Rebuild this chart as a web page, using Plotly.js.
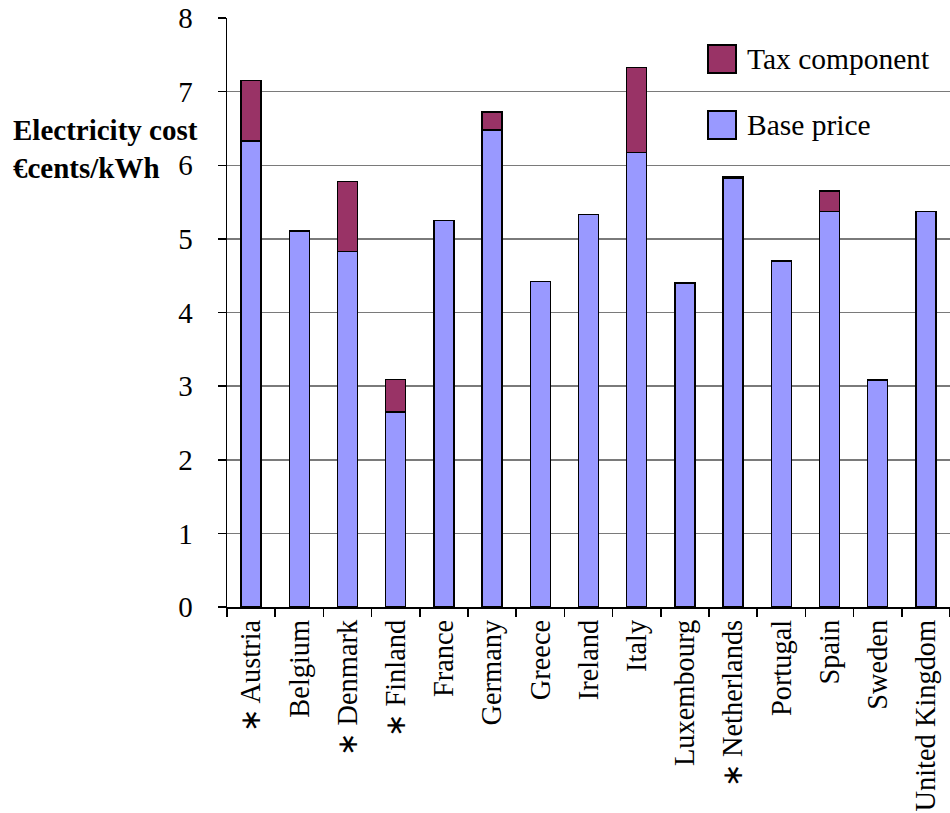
<!DOCTYPE html>
<html>
<head>
<meta charset="utf-8">
<script src="https://cdn.plot.ly/plotly-3.0.1.min.js"></script>
<style>
  html, body { margin: 0; padding: 0; background: #fff; }
  #chart { width: 950px; height: 813px; }
</style>
</head>
<body>
<div id="chart"></div>
<script>
// Electricity cost per country, €cents/kWh
const countries = ['Austria', 'Belgium', 'Denmark', 'Finland', 'France', 'Germany', 'Greece',
  'Ireland', 'Italy', 'Luxembourg', 'Netherlands', 'Portugal', 'Spain', 'Sweden', 'United Kingdom'];
const tickLabels = ['∗ Austria', 'Belgium', '∗ Denmark', '∗ Finland', 'France', 'Germany', 'Greece',
  'Ireland', 'Italy', 'Luxembourg', '∗ Netherlands', 'Portugal', 'Spain', 'Sweden', 'United Kingdom'];
const basePrice = [6.33, 5.11, 4.83, 2.65, 5.25, 6.48, 4.42, 5.33, 6.17, 4.40, 5.83, 4.70, 5.37, 3.08, 5.37];
const taxComponent = [0.82, null, 0.95, 0.44, null, 0.24, null, null, 1.16, null, 0.02, null, 0.28, null, null];
const seriesNames = ['Tax component', 'Base price'];
const seriesColors = ['#993366', '#9999ff'];
const yTitle = 'Electricity cost<br>€cents/kWh';

const FONT = 'Liberation Serif, Times New Roman, serif';

const W = 950, H = 813;
const M = { l: 227, r: 0, t: 18, b: 206 };
const PW = W - M.l - M.r, PH = H - M.t - M.b;
const px = x => (x - M.l) / PW;   // pixel -> paper x
const py = y => (H - M.b - y) / PH; // pixel -> paper y

const outline = { color: '#000', width: 1.5 };

const traces = [
  {
    type: 'bar', name: seriesNames[1], x: tickLabels, y: basePrice,
    marker: { color: seriesColors[1], line: outline }, hoverinfo: 'x+y'
  },
  {
    type: 'bar', name: seriesNames[0], x: tickLabels, y: taxComponent,
    marker: { color: seriesColors[0], line: outline }, hoverinfo: 'x+y'
  }
];

// legend drawn as boxes + labels in the upper right of the plot
const legendRows = [
  { name: seriesNames[0], color: seriesColors[0], top: 45 },
  { name: seriesNames[1], color: seriesColors[1], top: 111 }
];
const shapes = legendRows.map(r => ({
  type: 'rect', xref: 'paper', yref: 'paper',
  x0: px(708), x1: px(736), y0: py(r.top), y1: py(r.top + 28),
  fillcolor: r.color, line: { color: '#000', width: 2 }
}));
const annotations = legendRows.map(r => ({
  xref: 'paper', yref: 'paper', x: px(745), y: py(r.top + 14),
  xanchor: 'left', yanchor: 'middle', showarrow: false,
  text: r.name, font: { family: FONT, size: 29.5, color: '#000' }
}));
annotations.push({
  xref: 'paper', yref: 'paper', x: px(11), y: py(149),
  xanchor: 'left', yanchor: 'middle', align: 'left', showarrow: false,
  text: '<b>' + yTitle.replace('<br>', '</b><br><b>') + '</b>',
  font: { family: FONT, size: 29, color: '#000' }
});

const layout = {
  width: W, height: H,
  margin: M,
  paper_bgcolor: '#fff', plot_bgcolor: '#fff',
  barmode: 'stack',
  bargap: 0.585,
  showlegend: false,
  font: { family: FONT, size: 29, color: '#000' },
  xaxis: {
    type: 'category',
    tickangle: -90,
    tickson: 'boundaries',
    ticks: 'outside', ticklen: 8, tickwidth: 1.5, tickcolor: '#000',
    showline: true, linecolor: '#000', linewidth: 1.5,
    showgrid: false, zeroline: false,
    tickfont: { family: FONT, size: 28.4, color: '#000' },
    fixedrange: true
  },
  yaxis: {
    range: [0, 8], dtick: 1, tick0: 0,
    ticks: 'outside', ticklen: 8, tickwidth: 1.5, tickcolor: '#000',
    showline: true, linecolor: '#000', linewidth: 1.5,
    showgrid: true, gridcolor: '#7a7a7a', gridwidth: 1.5,
    zeroline: false,
    ticklabelstandoff: 19,
    tickfont: { family: FONT, size: 29, color: '#000' },
    fixedrange: true
  },
  shapes: shapes,
  annotations: annotations
};

Plotly.newPlot('chart', traces, layout, { displayModeBar: false, staticPlot: true });
</script>
</body>
</html>
